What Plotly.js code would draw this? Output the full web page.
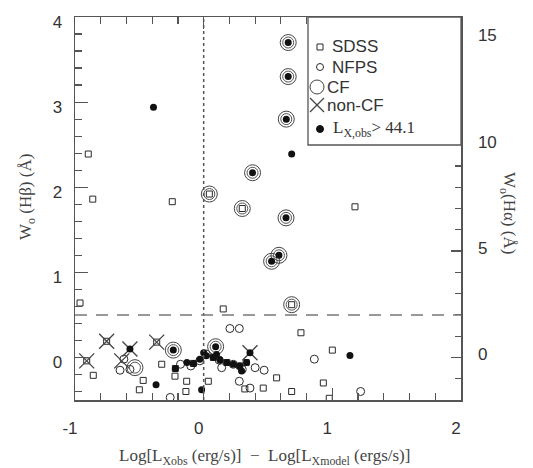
<!DOCTYPE html>
<html>
<head>
<meta charset="utf-8">
<script src="https://cdn.plot.ly/plotly-3.0.1.min.js"></script>
<style>html,body{margin:0;padding:0;background:#fff;}#chart{width:533px;height:468px;}</style>
</head>
<body>
<div id="chart"></div>
<script>
// ---- data ----
const sdssX = [-0.897,-0.862,-0.244,-0.961,1.176,0.152,0.756,1.0,0.93,0.976,0.684,0.567,0.463,0.036,-0.858,-0.50,-0.326,-0.223,-0.132,-0.138,0.32,0.044,0.30,0.684,-0.47,-0.909,-0.754,-0.365,-0.22,-0.08,0.075,0.18,0.28,0.33];
const sdssY = [2.39,1.86,1.83,0.64,1.77,0.57,0.29,0.086,-0.30,-0.48,-0.40,-0.24,-0.36,-0.28,-0.21,-0.38,-0.08,-0.22,-0.28,-0.40,-0.37,1.92,1.75,0.62,-0.27,-0.04,0.19,0.18,-0.13,-0.07,0.0,-0.06,-0.10,-0.06];

const nfpsX = [0.204,0.277,0.86,0.47,1.22,-0.26,-0.65,-0.573,0.277,0.36,-0.62,-0.18,-0.03,0.02,0.12,0.23,0.30,0.40,-0.10,0.14];
const nfpsY = [0.34,0.34,-0.02,-0.15,-0.40,-0.47,-0.15,-0.14,-0.28,-0.36,-0.02,-0.08,-0.04,0.04,-0.03,-0.08,-0.14,-0.12,-0.10,-0.12];

const cfX = [0.657,0.657,0.642,0.38,0.044,0.30,0.64,0.585,0.528,0.684,0.093,-0.236,-0.534];
const cfY = [3.70,3.30,2.80,2.17,1.92,1.75,1.64,1.20,1.13,0.62,0.126,0.086,-0.12];

const noncfX = [-0.909,-0.754,-0.573,-0.637,-0.365,0.36];
const noncfY = [-0.04,0.19,0.10,-0.04,0.18,0.055];

const lxX = [0.657,0.657,0.642,0.684,0.38,0.64,0.585,0.528,-0.39,1.137,-0.016,-0.37,0.093,0.36,-0.573,-0.236,-0.22,-0.13,-0.08,-0.03,0.02,0.075,0.127,0.18,0.23,0.28,0.295,0.334,0.0,0.10];
const lxY = [3.70,3.30,2.80,2.39,2.17,1.64,1.20,1.13,2.94,0.024,-0.38,-0.32,0.126,0.055,0.10,0.086,-0.13,-0.06,-0.07,-0.02,0.02,0.0,-0.03,-0.06,-0.08,-0.10,-0.16,-0.06,0.055,0.035];

const legendLabels = ['SDSS','NFPS','CF','non-CF','L<sub>X,obs</sub>> 44.1'];
const cutY = 0.5;   // dashed line level
const zeroX = 0;    // dotted line position

// ---- layout helpers ----
const W = 533, H = 468;
const L = 75, R = 461, T = 17, B = 400;
const pX = px => (px - L) / (R - L);
const pY = py => (B - py) / (B - T);
const ink = '#2a2a2a';

const traces = [
  {x: sdssX, y: sdssY, mode: 'markers', type: 'scatter', showlegend: false, hoverinfo: 'skip',
   marker: {symbol: 'square-open', size: 6, color: ink, line: {width: 1, color: ink}}},
  {x: nfpsX, y: nfpsY, mode: 'markers', type: 'scatter', showlegend: false, hoverinfo: 'skip',
   marker: {symbol: 'circle-open', size: 8, color: ink, line: {width: 1, color: ink}}},
  {x: cfX, y: cfY, mode: 'markers', type: 'scatter', showlegend: false, hoverinfo: 'skip',
   marker: {symbol: 'circle-open', size: 16, color: '#444', line: {width: 1, color: '#444'}}},
  {x: cfX, y: cfY, mode: 'markers', type: 'scatter', showlegend: false, hoverinfo: 'skip',
   marker: {symbol: 'circle-open', size: 11, color: '#555', line: {width: 1, color: '#555'}}},
  {x: noncfX, y: noncfY, mode: 'markers', type: 'scatter', showlegend: false, hoverinfo: 'skip',
   marker: {symbol: 'x-thin-open', size: 15, color: '#444', line: {width: 1.3, color: '#444'}}},
  {x: lxX, y: lxY, mode: 'markers', type: 'scatter', showlegend: false, hoverinfo: 'skip',
   marker: {symbol: 'circle', size: 7, color: '#111', line: {width: 0}}},
  {x: [], y: [], yaxis: 'y2', mode: 'markers', type: 'scatter', showlegend: false, hoverinfo: 'skip'}
];

const tickFont = {family: 'Liberation Sans, Arial, sans-serif', size: 17, color: '#333'};
const serif = 'Liberation Serif, Times New Roman, serif';

// legend rows: [symbol center px x, center px y, text px x]
const rows = [[320, 47, 330], [320, 67, 330], [317, 87, 325], [317, 105, 325], [320, 129, 331]];

const shapes = [
  {type: 'line', xref: 'x', yref: 'paper', x0: zeroX, x1: zeroX, y0: 0, y1: 1,
   line: {color: '#555', width: 1.5, dash: 'dot'}},
  {type: 'line', xref: 'paper', yref: 'y', x0: 0, x1: 1, y0: cutY, y1: cutY,
   line: {color: '#777', width: 1.5, dash: '12px,9px'}},
  {type: 'rect', xref: 'paper', yref: 'paper', x0: pX(308), x1: 1, y0: pY(145), y1: 1,
   line: {color: '#555', width: 1.3}, fillcolor: 'rgba(255,255,255,1)', layer: 'above'},
  // legend symbols
  {type: 'rect', xref: 'paper', yref: 'paper', xsizemode: 'pixel', ysizemode: 'pixel',
   xanchor: pX(rows[0][0]), yanchor: pY(rows[0][1]), x0: -3, x1: 3, y0: -3, y1: 3, line: {color: ink, width: 1}},
  {type: 'circle', xref: 'paper', yref: 'paper', xsizemode: 'pixel', ysizemode: 'pixel',
   xanchor: pX(rows[1][0]), yanchor: pY(rows[1][1]), x0: -3.5, x1: 3.5, y0: -3.5, y1: 3.5, line: {color: ink, width: 1}},
  {type: 'circle', xref: 'paper', yref: 'paper', xsizemode: 'pixel', ysizemode: 'pixel',
   xanchor: pX(rows[2][0]), yanchor: pY(rows[2][1]), x0: -7, x1: 7, y0: -7, y1: 7, line: {color: '#444', width: 1}},
  {type: 'path', xref: 'paper', yref: 'paper', xsizemode: 'pixel', ysizemode: 'pixel',
   xanchor: pX(rows[3][0]), yanchor: pY(rows[3][1]), path: 'M-7,-7L7,7M-7,7L7,-7', line: {color: '#444', width: 1.3}},
  {type: 'circle', xref: 'paper', yref: 'paper', xsizemode: 'pixel', ysizemode: 'pixel',
   xanchor: pX(rows[4][0]), yanchor: pY(rows[4][1]), x0: -3.5, x1: 3.5, y0: -3.5, y1: 3.5, fillcolor: '#111', line: {color: '#111', width: 1}}
];

const annotations = legendLabels.map((t, i) => ({
  xref: 'paper', yref: 'paper', x: pX(rows[i][2]), y: pY(rows[i][1]), xanchor: 'left', yanchor: 'middle',
  text: t, showarrow: false,
  font: i === 4 ? {family: serif, size: 17, color: '#333'} : {family: 'Liberation Sans, Arial, sans-serif', size: 17, color: '#333'}
}));
annotations.push({
  xref: 'paper', yref: 'paper', x: pX(27), y: pY(197), xanchor: 'center', yanchor: 'middle', textangle: -90,
  text: 'W<sub>o</sub> (Hβ) (Å)', showarrow: false, font: {family: serif, size: 17, color: '#444'}
});
annotations.push({
  xref: 'paper', yref: 'paper', x: pX(508), y: pY(213), xanchor: 'center', yanchor: 'middle', textangle: 90,
  text: 'W<sub>o</sub>(Hα) (Å)', showarrow: false, font: {family: serif, size: 17, color: '#444'}
});
annotations.push({
  xref: 'paper', yref: 'paper', x: pX(264), y: pY(457), xanchor: 'center', yanchor: 'middle',
  text: 'Log[L<sub>Xobs</sub> (erg/s)]  −  Log[L<sub>Xmodel</sub> (ergs/s)]', showarrow: false,
  font: {family: serif, size: 17, color: '#444'}
});

const layout = {
  width: W, height: H,
  margin: {l: L, r: W - R, t: T, b: H - B, pad: 0},
  paper_bgcolor: '#fff', plot_bgcolor: '#fff',
  showlegend: false,
  xaxis: {
    range: [-1, 2], tickvals: [-1, 0, 1, 2], ticktext: ['-1', '0', '1', '2'],
    ticks: 'inside', ticklen: 12, tickwidth: 1.2, tickcolor: '#555',
    minor: {dtick: 0.2, ticks: 'inside', ticklen: 7, tickwidth: 1.2, tickcolor: '#555'},
    showline: true, linecolor: '#555', linewidth: 1.5, mirror: 'ticks',
    showgrid: false, zeroline: false, tickfont: tickFont, ticklabelstandoff: 12, ticklabelshift: -5
  },
  yaxis: {
    range: [-0.5, 4], tickvals: [0, 1, 2, 3, 4],
    ticks: 'inside', ticklen: 13, tickwidth: 1.2, tickcolor: '#555',
    minor: {dtick: 0.2, ticks: 'inside', ticklen: 7, tickwidth: 1.2, tickcolor: '#555'},
    showline: true, linecolor: '#555', linewidth: 1.5, mirror: false,
    showgrid: false, zeroline: false, tickfont: tickFont, ticklabelstandoff: 8, ticklabelshift: 5
  },
  yaxis2: {
    range: [-2, 16], tickvals: [0, 5, 10, 15], overlaying: 'y', side: 'right',
    ticks: 'inside', ticklen: 10, tickwidth: 1.2, tickcolor: '#555',
    minor: {dtick: 1, ticks: 'inside', ticklen: 6, tickwidth: 1.2, tickcolor: '#555'},
    showline: true, linecolor: '#555', linewidth: 1.5,
    showgrid: false, zeroline: false, tickfont: tickFont, ticklabelstandoff: 12, ticklabelshift: -3
  },
  shapes: shapes,
  annotations: annotations
};

Plotly.newPlot('chart', traces, layout, {staticPlot: true, displayModeBar: false});
</script>
</body>
</html>
